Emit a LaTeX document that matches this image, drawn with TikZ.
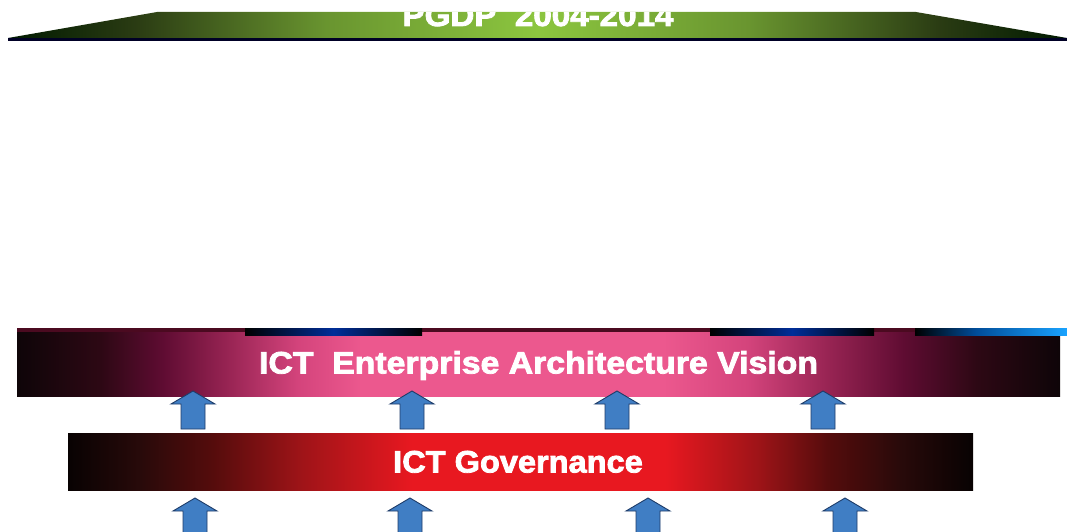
\documentclass[tikz,border=0pt]{standalone}
\usepackage{fontspec}
\setmainfont{Liberation Sans}
\newfontfamily\heavyfont{Liberation Sans}[BoldFeatures={FakeBold=2.5}]
\definecolor{arrfill}{RGB}{64,126,196}
\definecolor{arrline}{RGB}{30,60,105}
\definecolor{pk0}{RGB}{14,5,8}
\definecolor{pk1}{RGB}{45,8,20}
\definecolor{pk2}{RGB}{95,12,50}
\definecolor{pk3}{RGB}{150,35,82}
\definecolor{pk4}{RGB}{212,68,124}
\definecolor{pk5}{RGB}{236,88,142}
\definecolor{pkline}{RGB}{75,10,32}
% pink bar shading (path spans 25bp..75bp)
\pgfdeclarehorizontalshading{pinkshade}{100bp}{
 color(0bp)=(pk0); color(25bp)=(pk0);
 color(29bp)=(pk1); color(32bp)=(pk2);
 color(35bp)=(pk3); color(38.5bp)=(pk4);
 color(41.5bp)=(pk5); color(56bp)=(pk5);
 color(60bp)=(pk4); color(64bp)=(pk3);
 color(67.5bp)=(pk2); color(71bp)=(pk1); color(75bp)=(pk0); color(100bp)=(pk0)}
\definecolor{rd0}{RGB}{8,2,2}
\definecolor{rd1}{RGB}{40,10,10}
\definecolor{rd2}{RGB}{85,12,12}
\definecolor{rd3}{RGB}{160,20,24}
\definecolor{rd4}{RGB}{232,24,32}
\pgfdeclarehorizontalshading{redshade}{100bp}{
 color(0bp)=(rd0); color(25bp)=(rd0);
 color(29bp)=(rd1); color(33bp)=(rd2);
 color(38bp)=(rd3); color(44bp)=(rd4);
 color(58bp)=(rd4); color(63bp)=(rd3);
 color(67bp)=(rd2); color(71bp)=(rd1); color(75bp)=(rd0); color(100bp)=(rd0)}
\definecolor{gbright}{RGB}{140,198,63}
\pgfdeclarehorizontalshading{greenshade}{100bp}{
 color(0bp)=(black); color(25bp)=(black!90!green);
 color(31bp)=(gbright!30!black); color(40bp)=(gbright!75!black);
 color(50bp)=(gbright); color(60bp)=(gbright!75!black);
 color(69bp)=(gbright!30!black); color(75bp)=(black!90!green); color(100bp)=(black)}
\pgfdeclarehorizontalshading{blueshade}{100bp}{
 color(0bp)=(black); color(25bp)=(black);
 color(50bp)=(blue!70!cyan!60!black); color(75bp)=(black); color(100bp)=(black)}
\pgfdeclarehorizontalshading{cyanshade}{100bp}{
 color(0bp)=(black); color(25bp)=(black);
 color(45bp)=(cyan!50!blue!60!black); color(75bp)=(cyan!60!blue!90!white); color(100bp)=(cyan)}
\tikzset{
  bartext/.style={text=white, font=\heavyfont\bfseries\fontsize{31}{31}\selectfont, text height=22pt, text depth=0pt, inner sep=0pt},
  pinkbar/.style={bartext, shading=pinkshade, minimum width=1043pt, minimum height=67pt},
  redbar/.style={bartext, shading=redshade, minimum width=905pt, minimum height=57pt},
  arrowbody/.style={fill=arrfill, draw=arrline, line width=0.9pt, line join=miter},
  uparr/.pic={\path[arrowbody] (0,0) -- (22,13) -- (12,13) -- (12,38) -- (-12,38) -- (-12,13) -- (-22,13) -- cycle;},
  uparrlong/.pic={\path[arrowbody] (0,0) -- (22,13) -- (12,13) -- (12,45) -- (-12,45) -- (-12,13) -- (-22,13) -- cycle;}
}
\begin{document}
\begin{tikzpicture}[x=1pt,y=-1pt]
\useasboundingbox (0,0) rectangle (1067,532);
\clip (0,0) rectangle (1067,532);
% top green trapezoid
\path[shading=greenshade] (8,38) -- (157,12) -- (916,12) -- (1067,38) -- (1067,40) -- (8,40) -- cycle;
\begin{scope}
\clip (8,38) -- (157,12) -- (916,12) -- (1067,38) -- cycle;
\node[anchor=base, text=white, inner sep=0pt, font=\heavyfont\bfseries\fontsize{31}{31}\selectfont] (pgdp) at (538,26) {\scalebox{1.07}[1]{PGDP\ \ 2004-2014}};
\end{scope}
\fill[black!85!blue] (8,38) rectangle (1067,41);
% pink vision bar
\node[pinkbar] (vision) at (538.5,362.5) {\scalebox{1.09}[1]{ICT\ \ Enterprise Architecture Vision}};
\fill[pkline] (17,328) rectangle (1060,332);
\path[shading=blueshade] (245,328) rectangle (422,335);
\path[shading=blueshade] (710,328) rectangle (874,335);
\path[shading=cyanshade] (915,328) rectangle (1067,335);
% red governance bar
\node[redbar] (gov) at (520.5,461.5) {\hspace*{-5pt}\scalebox{1.05}[1]{ICT Governance}};
% arrows between bars
\foreach \x in {193,412,617,823} \pic at (\x,391) {uparr};
% arrows below governance
\foreach \x in {195,410,648,845} \pic at (\x,498) {uparrlong};
\end{tikzpicture}
\end{document}
